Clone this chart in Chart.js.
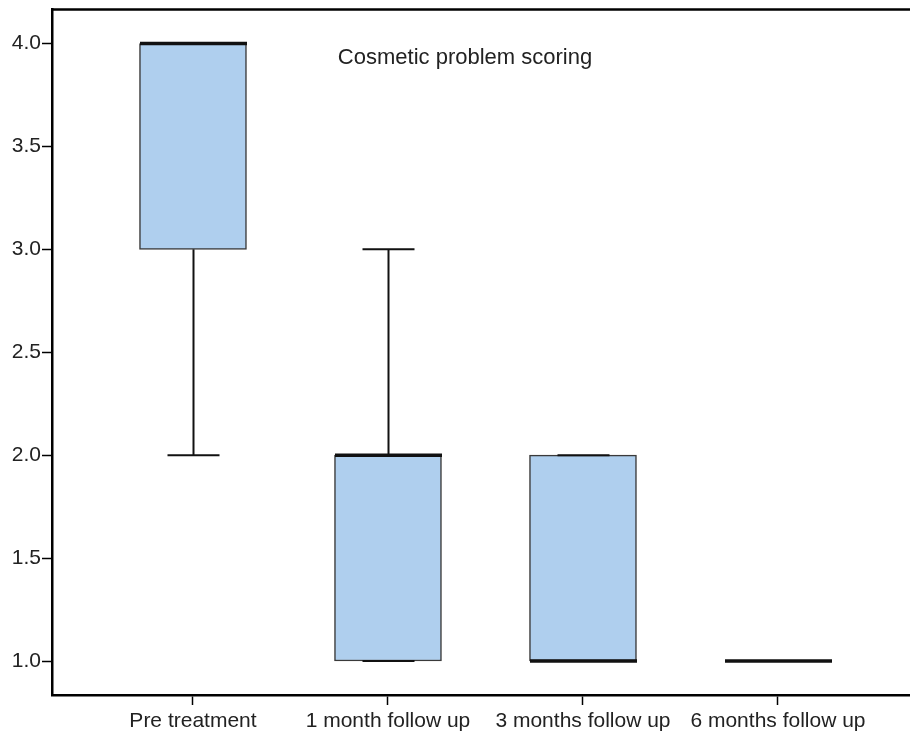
<!DOCTYPE html>
<html>
<head>
<meta charset="utf-8">
<script src="https://cdn.jsdelivr.net/npm/chart.js@4/dist/chart.umd.min.js"></script>
<style>
  html, body { margin: 0; padding: 0; background: #fff; }
  #wrap { width: 910px; height: 736px; }
</style>
</head>
<body>
<div id="wrap"><canvas id="boxChart"></canvas></div>
<script>
// Cosmetic problem scoring - box plot data
const categories = ['Pre treatment', '1 month follow up', '3 months follow up', '6 months follow up'];
const positions = [1, 2, 3, 4];
const whiskerLow = [2, 1, 1, 1];
const q1 = [3, 1, 1, 1];
const medians = [4, 2, 1, 1];
const q3 = [4, 2, 2, 1];
const whiskerHigh = [4, 3, 2, 1];
const yTicks = [1.0, 1.5, 2.0, 2.5, 3.0, 3.5, 4.0];
const chartTitle = 'Cosmetic problem scoring';

const FONT = "'Liberation Sans', Arial, sans-serif";

// whiskers, caps, medians, frame
const boxExtras = {
    id: 'boxExtras',
    afterDatasetsDraw(chart) {
        const ctx = chart.ctx;
        const x = chart.scales.x;
        const y = chart.scales.y;
        const area = chart.chartArea;
        const half = 107 / 2;
        const capHalf = 26;
        ctx.save();
        ctx.strokeStyle = '#111';
        ctx.lineCap = 'butt';
        positions.forEach(function (p, i) {
            const cx = Math.round(x.getPixelForValue(p)) + 0.5;
            ctx.lineWidth = 2;
            // upper whisker
            if (whiskerHigh[i] > q3[i]) {
                ctx.beginPath();
                ctx.moveTo(cx, y.getPixelForValue(q3[i]));
                ctx.lineTo(cx, y.getPixelForValue(whiskerHigh[i]));
                ctx.stroke();
            }
            // lower whisker
            if (whiskerLow[i] < q1[i]) {
                ctx.beginPath();
                ctx.moveTo(cx, y.getPixelForValue(q1[i]));
                ctx.lineTo(cx, y.getPixelForValue(whiskerLow[i]));
                ctx.stroke();
            }
            // caps
            [whiskerLow[i], whiskerHigh[i]].forEach(function (v) {
                const py = y.getPixelForValue(v);
                ctx.beginPath();
                ctx.moveTo(cx - capHalf, py);
                ctx.lineTo(cx + capHalf, py);
                ctx.stroke();
            });
            // median
            ctx.lineWidth = 3.5;
            const my = y.getPixelForValue(medians[i]);
            ctx.beginPath();
            ctx.moveTo(cx - half, my);
            ctx.lineTo(cx + half, my);
            ctx.stroke();
        });
        // top frame line
        ctx.strokeStyle = '#000';
        ctx.lineWidth = 2.5;
        ctx.beginPath();
        ctx.moveTo(area.left - 1, area.top);
        ctx.lineTo(area.right, area.top);
        ctx.stroke();
        // title
        ctx.fillStyle = '#222';
        ctx.font = '22px ' + FONT;
        ctx.textAlign = 'center';
        ctx.textBaseline = 'middle';
        ctx.fillText(chartTitle, 465, 58);
        ctx.restore();
    }
};

const ctx = document.getElementById('boxChart').getContext('2d');
const boxChart = new Chart(ctx, {
    type: 'bar',
    data: {
        datasets: [{
            data: positions.map(function (p, i) { return { x: p, y: [q1[i], q3[i]] }; }),
            backgroundColor: '#afcfee',
            borderColor: '#3a3a3a',
            borderWidth: 1.5,
            borderSkipped: false,
            barThickness: 107
        }]
    },
    options: {
        responsive: true,
        maintainAspectRatio: false,
        animation: false,
        layout: {
            padding: { top: 9.5, right: 0, left: 0, bottom: 0 }
        },
        plugins: {
            legend: { display: false },
            tooltip: { enabled: false }
        },
        scales: {
            x: {
                type: 'linear',
                offset: false,
                min: 0.277,
                max: 4.677,
                afterBuildTicks: function (scale) {
                    scale.ticks = positions.map(function (p) { return { value: p }; });
                },
                afterFit: function (scale) {
                    scale.height = 41;
                    scale.paddingLeft = 0;
                    scale.paddingRight = 0;
                },
                grid: { offset: false, drawOnChartArea: false, tickLength: 10, tickColor: '#000', tickWidth: 1.5 },
                border: { color: '#000', width: 2.5 },
                ticks: {
                    autoSkip: false,
                    maxRotation: 0,
                    padding: 4,
                    color: '#222',
                    font: { family: FONT, size: 21 },
                    callback: function (v) {
                        const idx = positions.indexOf(v);
                        return idx >= 0 ? categories[idx] : '';
                    }
                }
            },
            y: {
                min: 0.835,
                max: 4.165,
                afterBuildTicks: function (scale) {
                    scale.ticks = yTicks.map(function (v) { return { value: v }; });
                },
                afterFit: function (scale) {
                    scale.width = 52;
                    scale.paddingTop = 0;
                    scale.paddingBottom = 0;
                },
                grid: { drawOnChartArea: false, tickLength: 10, tickColor: '#000', tickWidth: 1.5 },
                border: { color: '#000', width: 2.5 },
                ticks: {
                    padding: 1,
                    color: '#222',
                    font: { family: FONT, size: 21 },
                    callback: function (v) { return Number(v).toFixed(1); }
                }
            }
        }
    },
    plugins: [boxExtras]
});
</script>
</body>
</html>
